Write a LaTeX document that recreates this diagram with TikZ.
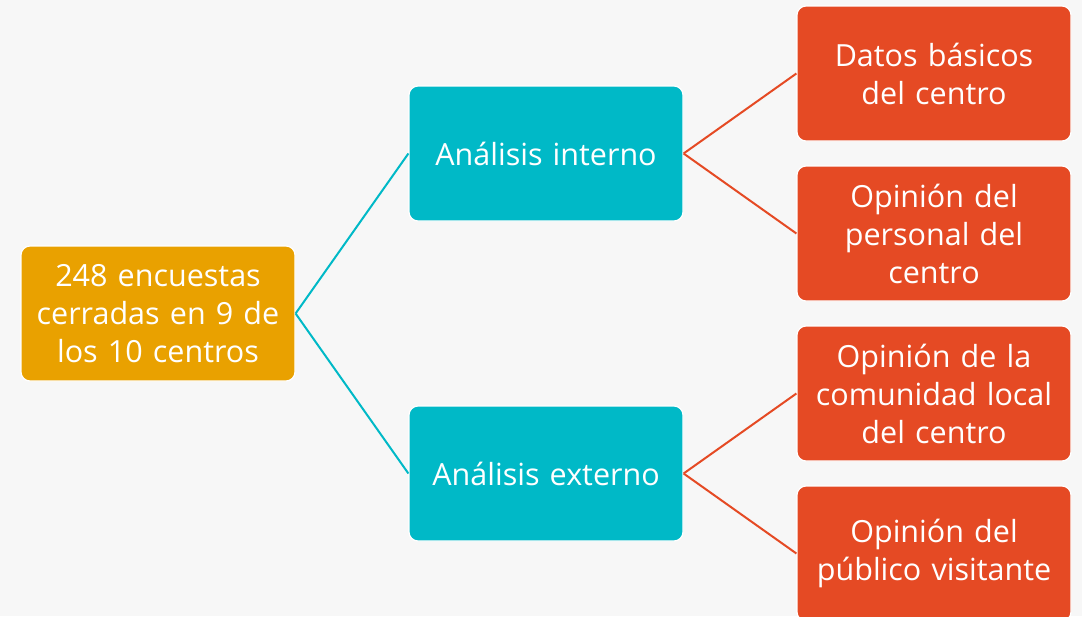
\documentclass[tikz,border=0pt]{standalone}
\usepackage{fontspec}
\usepackage{xcolor}
\setmainfont{Open Sans}

\definecolor{bgGray}{HTML}{F7F7F7}
\definecolor{rootOrange}{HTML}{E9A100}
\definecolor{midTeal}{HTML}{00B9C7}
\definecolor{leafRed}{HTML}{E54A24}

\begin{document}
\begin{tikzpicture}[x=1pt, y=1pt,
      every node/.style = {rectangle, rounded corners=9pt, draw=white, line width=1.2pt,
            text=white, minimum width=274pt, minimum height=135pt, text width=266pt,
            align=center, font=\fontsize{30.5}{38}\selectfont},
      rootbox/.style = {fill=rootOrange},
      midbox/.style = {fill=midTeal},
      leafbox/.style = {fill=leafRed},
      grow' = right,
      level distance = 388pt,
      level/.style = {sibling distance = 320pt/#1},
      level 1/.style = {edge from parent/.style = {draw=midTeal, line width=2pt}},
      level 2/.style = {edge from parent/.style = {draw=leafRed, line width=2pt}},
      edge from parent path = {(\tikzparentnode.east) -- (\tikzchildnode.west)}
      ]
      \useasboundingbox[fill=bgGray] (0,0) rectangle (1082,-616);
      \node[rootbox] (encuestas) at (158,-313.5) {248 encuestas\\ cerradas en 9 de\\ los 10 centros}
      child {node[midbox] (interno) {Análisis interno}
            child {node[leafbox] (datos) {Datos básicos\\ del centro}}
            child {node[leafbox] (personal) {Opinión del\\ personal del\\ centro}}
            }
      child {node[midbox] (externo) {Análisis externo}
            child {node[leafbox] (comunidad) {Opinión de la\\ comunidad local\\ del centro}}
            child {node[leafbox] (publico) {Opinión del\\ público visitante}}
            };
    \end{tikzpicture}
\end{document}
